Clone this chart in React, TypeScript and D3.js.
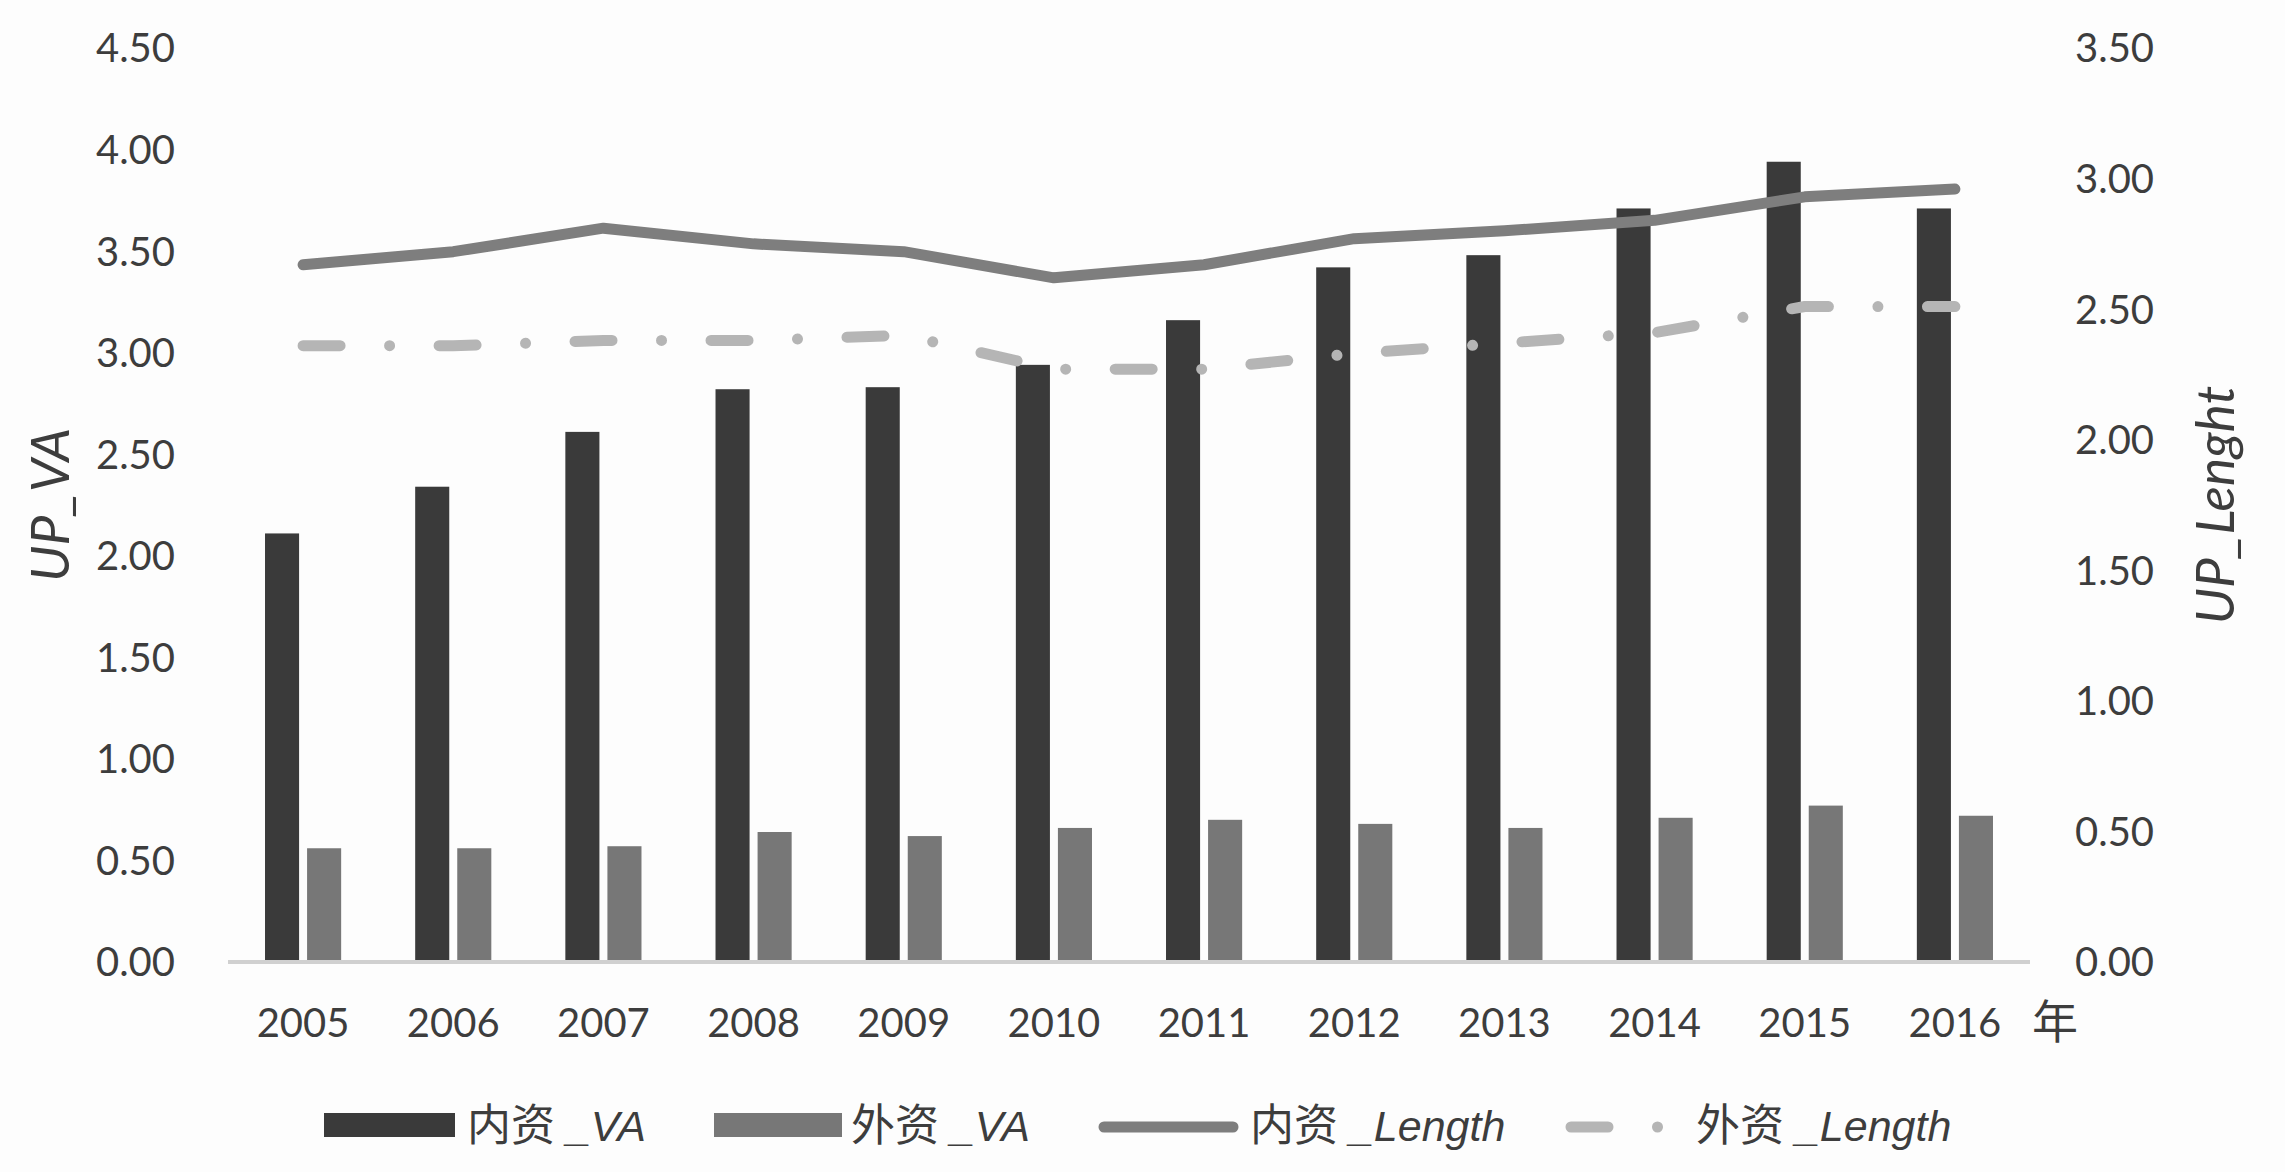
import React from "react";
import * as d3 from "d3";

const YEARS = ["2005","2006","2007","2008","2009","2010","2011","2012","2013","2014","2015","2016"];
// left axis (UP_VA)
const DOM_VA = [2.11, 2.34, 2.61, 2.82, 2.83, 2.94, 3.16, 3.42, 3.48, 3.71, 3.94, 3.71];
const FOR_VA = [0.56, 0.56, 0.57, 0.64, 0.62, 0.66, 0.70, 0.68, 0.66, 0.71, 0.77, 0.72];
// right axis (UP_Lenght)
const DOM_LEN = [2.67, 2.72, 2.81, 2.75, 2.72, 2.62, 2.67, 2.77, 2.80, 2.84, 2.93, 2.96];
const FOR_LEN = [2.36, 2.36, 2.38, 2.38, 2.40, 2.27, 2.27, 2.33, 2.37, 2.41, 2.51, 2.51];

const LEFT_TICKS = [0, 0.5, 1, 1.5, 2, 2.5, 3, 3.5, 4, 4.5];
const RIGHT_TICKS = [0, 0.5, 1, 1.5, 2, 2.5, 3, 3.5];
const BAR_SERIES = ["内资_VA", "外资_VA"];

const W = 2285;
const H = 1172;
const PLOT = { left: 228, right: 2030, top: 48, bottom: 962 };

const C_DARK = "#3a3a3a";
const C_LIGHT = "#777777";
const C_LINE = "#7e7e7e";
const C_DASH = "#b5b5b5";
const C_AXIS = "#d0d0d0";
const C_TEXT = "#3d3d3d";
const DASH = "37 49.5 0.01 49.5";

const NUM_FONT = "Lato, 'Open Sans', sans-serif";
const LAT_FONT = "'Liberation Sans', Arial, sans-serif";
const CJK_FONT = "'Noto Sans CJK SC', sans-serif";

const App: React.FC = () => {
  const x = d3.scaleBand<string>().domain(YEARS).range([PLOT.left, PLOT.right]);
  const sub = d3.scaleBand<string>()
    .domain(BAR_SERIES)
    .range([0, x.bandwidth()])
    .paddingInner(0.19)
    .paddingOuter(0.88);
  const yL = d3.scaleLinear().domain([0, 4.5]).range([PLOT.bottom, PLOT.top]);
  const yR = d3.scaleLinear().domain([0, 3.5]).range([PLOT.bottom, PLOT.top]);
  const cx = (yr: string) => x(yr)! + x.bandwidth() / 2;

  const lineDom = d3.line<number>().x((_, i) => cx(YEARS[i])).y(v => yR(v));
  const fmt = d3.format(".2f");
  const midY = (PLOT.top + PLOT.bottom) / 2;

  const legend = [
    { kind: "bar", color: C_DARK, x0: 324, x1: 455, cjk: "内资", lat: " _VA", tx: 467 },
    { kind: "bar", color: C_LIGHT, x0: 714, x1: 842, cjk: "外资", lat: " _VA", tx: 851 },
    { kind: "line", color: C_LINE, x0: 1104, x1: 1233, cjk: "内资", lat: " _Length", tx: 1250 },
    { kind: "dash", color: C_DASH, x0: 1571, x1: 1660, cjk: "外资", lat: " _Length", tx: 1696 },
  ];

  return (
    <div style={{ position: "absolute", left: 0, top: 0, background: "#fff" }}>
      <svg width={W} height={H} style={{ display: "block" }}>
        <rect width={W} height={H} fill="#fdfdfd" />

        {/* bars */}
        {YEARS.map((yr, i) => (
          <g key={yr} transform={`translate(${x(yr)},0)`}>
            <rect x={sub(BAR_SERIES[0])} width={sub.bandwidth()}
              y={yL(DOM_VA[i])} height={yL(0) - yL(DOM_VA[i])} fill={C_DARK} />
            <rect x={sub(BAR_SERIES[1])} width={sub.bandwidth()}
              y={yL(FOR_VA[i])} height={yL(0) - yL(FOR_VA[i])} fill={C_LIGHT} />
          </g>
        ))}

        {/* category axis line */}
        <line x1={PLOT.left} x2={PLOT.right} y1={PLOT.bottom} y2={PLOT.bottom}
          stroke={C_AXIS} strokeWidth={4} />

        {/* lines on secondary axis */}
        <path d={lineDom(DOM_LEN) ?? ""} fill="none" stroke={C_LINE} strokeWidth={11}
          strokeLinejoin="round" strokeLinecap="round" />
        <path d={lineDom(FOR_LEN) ?? ""} fill="none" stroke={C_DASH} strokeWidth={11}
          strokeLinejoin="round" strokeLinecap="round" strokeDasharray={DASH} />

        {/* tick labels */}
        <g fontFamily={NUM_FONT} fontSize={40} fill={C_TEXT}>
          {LEFT_TICKS.map(t => (
            <text key={`l${t}`} x={175} y={yL(t)} dy="0.36em" textAnchor="end">{fmt(t)}</text>
          ))}
          {RIGHT_TICKS.map(t => (
            <text key={`r${t}`} x={2075} y={yR(t)} dy="0.36em" textAnchor="start">{fmt(t)}</text>
          ))}
          {YEARS.map(yr => (
            <text key={`x${yr}`} x={cx(yr)} y={1037} textAnchor="middle">{yr}</text>
          ))}
        </g>
        <text x={2032} y={1038} fontFamily={CJK_FONT} fontSize={46} fill={C_TEXT}>年</text>

        {/* axis titles */}
        <text transform={`translate(69,${midY}) rotate(-90)`} textAnchor="middle"
          fontFamily={NUM_FONT} fontStyle="italic" fontSize={53} fill={C_TEXT}>UP_VA</text>
        <text transform={`translate(2234,${midY}) rotate(-90)`} textAnchor="middle"
          fontFamily={NUM_FONT} fontStyle="italic" fontSize={53} fill={C_TEXT}>UP_Lenght</text>

        {/* legend */}
        {legend.map((d, i) => (
          <g key={i}>
            {d.kind === "bar" && (
              <rect x={d.x0} y={1113} width={d.x1 - d.x0} height={24} fill={d.color} />
            )}
            {d.kind === "line" && (
              <line x1={d.x0} x2={d.x1} y1={1127} y2={1127} stroke={d.color}
                strokeWidth={11} strokeLinecap="round" />
            )}
            {d.kind === "dash" && (
              <line x1={d.x0} x2={d.x1} y1={1127} y2={1127} stroke={d.color}
                strokeWidth={11} strokeLinecap="round" strokeDasharray={DASH} />
            )}
            <text x={d.tx} y={1141} fill={C_TEXT}>
              <tspan fontFamily={CJK_FONT} fontSize={44}>{d.cjk}</tspan>
              <tspan fontFamily={LAT_FONT} fontStyle="italic" fontSize={43}>{d.lat}</tspan>
            </text>
          </g>
        ))}
      </svg>
    </div>
  );
};

export default App;
